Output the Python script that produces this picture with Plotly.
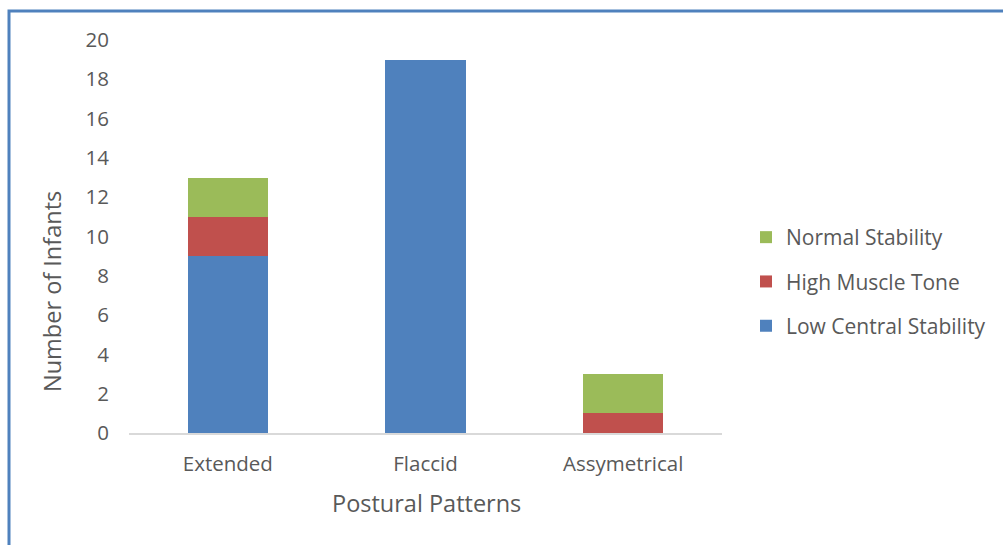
import plotly.graph_objects as go

categories = ["Extended", "Flaccid", "Assymetrical"]
low_central = [9, 19, 0]
high_tone = [2, 0, 1]
normal = [2, 0, 2]
y_ticks = [0, 2, 4, 6, 8, 10, 12, 14, 16, 18, 20]

FONT = "Open Sans"
GRAY = "#595959"
FS = 20.5

fig = go.Figure()
series = [
    ("Low Central Stability", low_central, "#4F81BD", 3),
    ("High Muscle Tone", high_tone, "#C0504D", 2),
    ("Normal Stability", normal, "#9BBB59", 1),
]
for name, vals, col, rank in series:
    fig.add_trace(go.Bar(x=categories, y=vals, name=name, marker_color=col,
                         marker_line_width=0, legendgroup=name,
                         legendrank=rank))

W, H = 1003, 545
L, R, T, B = 129, 281, 40, 112
pw, ph = W - L - R, H - T - B

def px_x(x):
    return (x - L) / pw

def px_y(y):
    return (H - B - y) / ph

fig.update_layout(
    width=W, height=H,
    margin=dict(l=L, r=R, t=T, b=B),
    paper_bgcolor="white", plot_bgcolor="white",
    barmode="stack", bargap=0.595,
    font=dict(family=FONT, size=FS, color=GRAY),
    showlegend=True,
    legend=dict(x=px_x(746), y=px_y(217), xanchor="left", yanchor="top",
                traceorder="grouped", tracegroupgap=14,
                font=dict(family=FONT, size=21, color=GRAY),
                bgcolor="rgba(0,0,0,0)"),
    xaxis=dict(showline=True, linecolor="#D9D9D9", linewidth=1.5,
               showgrid=False, ticks="", ticklabelstandoff=12,
               tickfont=dict(family=FONT, size=FS, color=GRAY)),
    yaxis=dict(range=[0, 20], tickvals=y_ticks, showgrid=False,
               showline=False, zeroline=False, ticks="",
               ticklabelstandoff=19,
               tickfont=dict(family=FONT, size=FS, color=GRAY)),
    annotations=[
        dict(text="Number of Infants", xref="paper", yref="paper",
             x=px_x(52), y=px_y(292), textangle=-90, showarrow=False,
             xanchor="center", yanchor="middle",
             font=dict(family=FONT, size=23.5, color=GRAY)),
        dict(text="Postural Patterns", xref="paper", yref="paper",
             x=px_x(426), y=px_y(503), showarrow=False,
             xanchor="center", yanchor="middle",
             font=dict(family=FONT, size=23.5, color=GRAY)),
    ],
    shapes=[
        dict(type="rect", xref="paper", yref="paper",
             x0=px_x(9), y0=px_y(560), x1=px_x(1020), y1=px_y(11),
             line=dict(color="#4F81BD", width=3), layer="below"),
    ],
)

fig.write_html("out.html")
